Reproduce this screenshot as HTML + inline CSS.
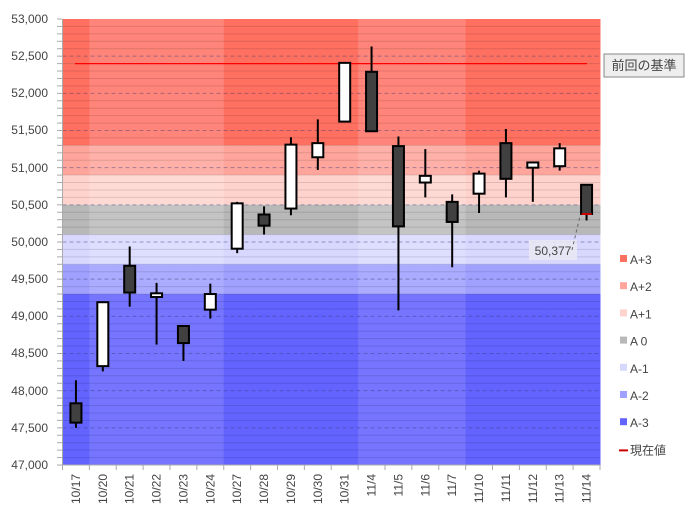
<!DOCTYPE html>
<html><head><meta charset="utf-8"><style>
body{margin:0;background:#fff;width:694px;height:517px;overflow:hidden;font-family:"Liberation Sans","Noto Sans CJK JP",sans-serif}
svg text{font-family:"Liberation Sans","Noto Sans CJK JP",sans-serif;font-size:12px;fill:#444}
</style></head><body>
<svg id="s" width="694" height="517" xmlns="http://www.w3.org/2000/svg">
<g id="bg"></g><g id="grid"></g><g id="cand"></g>
<g text-anchor="end">
<text x="48" y="23">53,000</text><text x="48" y="60">52,500</text><text x="48" y="97">52,000</text><text x="48" y="134">51,500</text><text x="48" y="172">51,000</text><text x="48" y="209">50,500</text><text x="48" y="246">50,000</text><text x="48" y="283">49,500</text><text x="48" y="320">49,000</text><text x="48" y="357">48,500</text><text x="48" y="395">48,000</text><text x="48" y="432">47,500</text><text x="48" y="469">47,000</text>
</g>
<g id="xl" text-anchor="end"></g>
<rect x="604" y="54" width="80" height="23" fill="#eee" stroke="#888"/>
<text x="644" y="70" text-anchor="middle" style="font-size:13px">前回の基準</text>
<rect x="529" y="240" width="48" height="20" fill="#e8e8f4" opacity="0.9"/>
<text x="553" y="255" text-anchor="middle">50,377</text>
<line x1="572" y1="250" x2="580" y2="216" stroke="#666" stroke-dasharray="3,3"/>
<g id="leg"></g>
</svg>
<script>
const NS="http://www.w3.org/2000/svg";
function el(p,t,a,txt){const e=document.createElementNS(NS,t);for(const k in a)e.setAttribute(k,a[k]);if(txt)e.textContent=txt;document.getElementById(p).appendChild(e);return e;}
const X0=62.5,X1=600,W=(X1-X0)/20;
const Y=v=>19+(53000-v)*446/6000;
const bands=[[53000,51300,"#ff7060","#ff857a"],[51300,50900,"#ffa59c","#ffb0a8"],[50900,50500,"#ffd3cd","#ffdad5"],[50500,50100,"#b8b8b8","#c4c4c4"],[50100,49700,"#d8d8ff","#dedeff"],[49700,49300,"#a0a0ff","#ababff"],[49300,47000,"#6363ff","#7575ff"]];
const dark=[1,0,0,0,0,0,1,1,1,1,1,0,0,0,0,1,1,1,1,1];
for(let i=0;i<20;i++)for(const b of bands)el("bg","rect",{x:X0+i*W,y:Y(b[0]),width:W+0.5,height:Y(b[1])-Y(b[0]),fill:dark[i]?b[2]:b[3]});
for(let v=47100;v<53000;v+=100){const y=Y(v);if(v%500==0)el("grid","line",{x1:X0,x2:X1,y1:y,y2:y,stroke:"rgba(60,60,120,0.45)","stroke-dasharray":"4,3"});else el("grid","line",{x1:X0,x2:X1,y1:y,y2:y,stroke:"rgba(0,0,0,0.12)"});}
for(let v=47000;v<=53000;v+=100){const y=Y(v);el("grid","line",{x1:57,x2:62,y1:y,y2:y,stroke:"#aaa"});}
el("grid","line",{x1:62.5,x2:62.5,y1:19,y2:465,stroke:"#aaa"});
el("grid","line",{x1:62,x2:600,y1:465,y2:465,stroke:"#aaa"});
for(let i=0;i<=20;i++)el("grid","line",{x1:X0+i*W,x2:X0+i*W,y1:465,y2:470,stroke:"#aaa"});
el("grid","line",{x1:75,x2:587,y1:Y(52400),y2:Y(52400),stroke:"#f00","stroke-width":1.2});
const labels=["10/17","10/20","10/21","10/22","10/23","10/24","10/27","10/28","10/29","10/30","10/31","11/4","11/5","11/6","11/7","11/10","11/11","11/12","11/13","11/14"];
const C=[[47830,47570,48140,47500],[48330,49190,49190,48260],[49680,49320,49940,49130],[49260,49310,49450,48620],[48870,48640,48870,48400],[49090,49300,49440,48970],[49910,50520,50540,49850],[50370,50220,50480,50100],[50450,51310,51410,50360],[51140,51330,51650,50970],[51620,52410,52410,51620],[52290,51490,52630,51490],[51290,50210,51420,49080],[50800,50890,51250,50600],[50540,50270,50640,49660],[50650,50920,50960,50390],[51330,50850,51520,50600],[51000,51070,51070,50540],[51020,51260,51330,50960],[50770,50377,50770,50290]];
C.forEach((c,i)=>{const cx=X0+(i+0.5)*W;const[o,cl,h,l]=c;const top=Math.max(o,cl),bot=Math.min(o,cl);
el("cand","line",{x1:cx,x2:cx,y1:Y(h),y2:Y(l),stroke:"#000","stroke-width":2});
el("cand","rect",{x:cx-5.5,y:Y(top),width:11,height:Math.max(Y(bot)-Y(top),3),fill:cl<o?"#404040":"#fff",stroke:"#000","stroke-width":2});
const t=el("xl","text",{transform:`translate(${cx+4},474) rotate(-90)`},labels[i]);});
el("cand","line",{x1:X0+19.5*W-5,x2:X0+19.5*W+5,y1:Y(50377),y2:Y(50377),stroke:"#c00","stroke-width":2});
const lg=[["A+3","#ff7060"],["A+2","#ffa59c"],["A+1","#ffd3cd"],["A 0","#b8b8b8"],["A-1","#d8d8ff"],["A-2","#a0a0ff"],["A-3","#6363ff"]];
lg.forEach((g,i)=>{const y=260+i*27.2;el("leg","rect",{x:620,y:y-5,width:7,height:7,fill:g[1]});el("leg","text",{x:630,y:y+4},g[0]);});
const y=260+7*27.2;el("leg","line",{x1:619,x2:628,y1:y,y2:y,stroke:"#c00","stroke-width":2});el("leg","text",{x:630,y:y+4},"現在値");
</script>
</body></html>
